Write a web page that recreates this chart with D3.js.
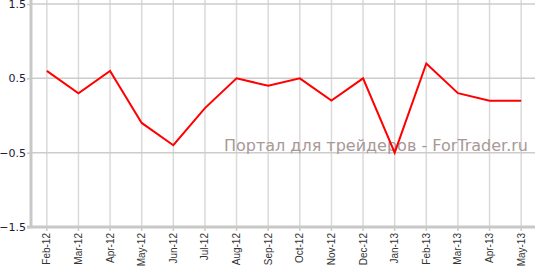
<!DOCTYPE html>
<html>
<head>
<meta charset="utf-8">
<script src="https://cdn.jsdelivr.net/npm/d3@7"></script>
<style>
  body { margin: 0; background: #fff; }
  svg { display: block; }
</style>
</head>
<body>
<svg id="chart" width="535" height="270"></svg>
<script>
const months = ['Feb-12', 'Mar-12', 'Apr-12', 'May-12', 'Jun-12', 'Jul-12', 'Aug-12', 'Sep-12',
  'Oct-12', 'Nov-12', 'Dec-12', 'Jan-13', 'Feb-13', 'Mar-13', 'Apr-13', 'May-13'];
const values = [0.6, 0.3, 0.6, -0.1, -0.4, 0.1, 0.5, 0.4, 0.5, 0.2, 0.5, -0.5, 0.7, 0.3, 0.2, 0.2];
const yTicks = [1.5, 0.5, -0.5, -1.5];

const width = 535;
const height = 270;
const margin = { top: 4, right: -2, bottom: 43, left: 31 };

const svg = d3.select('#chart');

const x = d3.scaleBand()
  .domain(months)
  .range([margin.left, width - margin.right]);

const y = d3.scaleLinear()
  .domain([-1.5, 1.5])
  .range([height - margin.bottom, margin.top]);

const xc = (m) => x(m) + x.bandwidth() / 2;

// grid
svg.append('g')
  .selectAll('line')
  .data(months)
  .join('line')
  .attr('x1', xc).attr('x2', xc)
  .attr('y1', 0).attr('y2', height - margin.bottom)
  .attr('stroke', '#dadada')
  .attr('stroke-width', 1.5);

svg.append('g')
  .selectAll('line')
  .data(yTicks.filter((t) => t !== -1.5))
  .join('line')
  .attr('x1', margin.left).attr('x2', width)
  .attr('y1', (t) => y(t)).attr('y2', (t) => y(t))
  .attr('stroke', '#cccccc')
  .attr('stroke-width', 1.5);

// watermark
svg.append('text')
  .attr('x', 528)
  .attr('y', 151)
  .attr('text-anchor', 'end')
  .attr('font-family', 'DejaVu Sans, sans-serif')
  .attr('font-size', 16)
  .attr('fill', '#a89898')
  .text('Портал для трейдеров - ForTrader.ru');

// y axis
const yAxis = svg.append('g')
  .attr('transform', `translate(${margin.left},0)`)
  .call(d3.axisLeft(y).tickValues(yTicks).tickSize(4).tickFormat(d3.format('.1f')));
yAxis.select('.domain').attr('stroke', '#c8c8c8').attr('stroke-width', 3)
  .attr('d', `M0,0V${height - margin.bottom}`);
yAxis.selectAll('.tick line').attr('stroke', '#c8c8c8').attr('stroke-width', 1.5);
yAxis.selectAll('.tick text')
  .attr('font-family', 'DejaVu Sans, Verdana, sans-serif')
  .attr('font-size', 11)
  .attr('fill', '#1a1a3a')
  .attr('x', -5);

// x axis
const xAxis = svg.append('g')
  .attr('transform', `translate(0,${height - margin.bottom})`)
  .call(d3.axisBottom(x).tickSize(4).tickSizeOuter(0));
xAxis.select('.domain').attr('stroke', '#c8c8c8').attr('stroke-width', 3)
  .attr('d', `M${margin.left - 4},0H${width}`);
xAxis.selectAll('.tick line').attr('stroke', '#c8c8c8').attr('stroke-width', 1.5);
xAxis.selectAll('.tick text')
  .attr('font-family', 'Liberation Sans, Arial, sans-serif')
  .attr('font-size', 10)
  .attr('fill', '#333')
  .attr('transform', 'rotate(-90)')
  .attr('text-anchor', 'end')
  .attr('dy', '0.35em')
  .attr('x', -6)
  .attr('y', 0);

// line
const line = d3.line()
  .x((d, i) => xc(months[i]))
  .y((d) => y(d));

svg.append('path')
  .datum(values)
  .attr('d', line)
  .attr('fill', 'none')
  .attr('stroke', '#ff0000')
  .attr('stroke-width', 2)
  .attr('stroke-linejoin', 'miter');
</script>
</body>
</html>
